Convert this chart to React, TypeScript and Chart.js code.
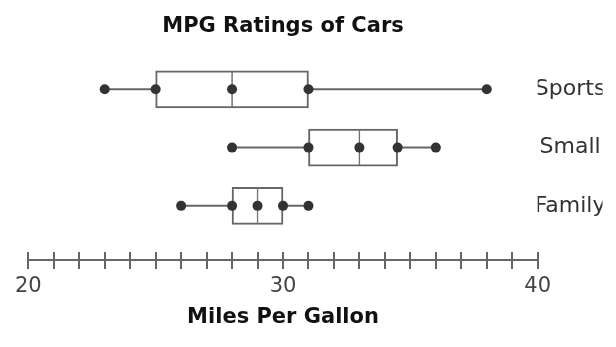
import React, { useEffect, useRef } from "react";
import { Chart, registerables } from "chart.js";

Chart.register(...registerables);

const categories = ["Sports", "Small", "Family"];
const yPositions = [3, 2, 1];
const minVals = [23, 28, 26];
const q1Vals = [25, 31, 28];
const medianVals = [28, 33, 29];
const q3Vals = [31, 34.5, 30];
const maxVals = [38, 36, 31];
const xTickLabels = [20, 30, 40];

const FONT = "'DejaVu Sans', 'Verdana', sans-serif";
const LINE = "#666";
const DOT = "#333";

export default function App() {
  const ref = useRef<HTMLCanvasElement | null>(null);

  useEffect(() => {
    if (!ref.current) return;
    Chart.defaults.font.family = FONT;

    const whiskers = categories.map((c, i) => ({
      type: "scatter" as const,
      label: c + " whisker",
      data: [
        { x: minVals[i], y: yPositions[i] },
        { x: maxVals[i], y: yPositions[i] },
      ],
      showLine: true,
      borderColor: LINE,
      borderWidth: 2,
      pointRadius: 0,
      order: 3,
    }));

    const lowerBox = {
      type: "bar" as const,
      label: "lower box",
      indexAxis: "y" as const,
      data: categories.map((_, i) => ({ x: [q1Vals[i], medianVals[i]], y: yPositions[i] })),
      backgroundColor: "#fff",
      borderColor: LINE,
      borderWidth: { left: 2, right: 1, top: 2, bottom: 2 },
      borderSkipped: false,
      barThickness: 37,
      grouped: false,
      order: 2,
    };
    const upperBox = {
      type: "bar" as const,
      label: "upper box",
      indexAxis: "y" as const,
      data: categories.map((_, i) => ({ x: [medianVals[i], q3Vals[i]], y: yPositions[i] })),
      backgroundColor: "#fff",
      borderColor: LINE,
      borderWidth: { left: 1, right: 2, top: 2, bottom: 2 },
      borderSkipped: false,
      barThickness: 37,
      grouped: false,
      order: 2,
    };

    const points = {
      type: "scatter" as const,
      label: "points",
      data: categories.flatMap((_, i) =>
        [minVals[i], q1Vals[i], medianVals[i], q3Vals[i], maxVals[i]].map((v) => ({ x: v, y: yPositions[i] }))
      ),
      pointRadius: 5,
      pointBackgroundColor: DOT,
      pointBorderWidth: 0,
      order: 1,
    };

    const chart = new Chart(ref.current, {
      type: "scatter",
      data: { datasets: [...whiskers, lowerBox, upperBox, points] as any },
      options: {
        animation: false,
        responsive: false,
        layout: { padding: { left: 28.3, right: 13.5, top: 0, bottom: 0 } },
        plugins: {
          legend: { display: false },
          tooltip: { enabled: false },
          title: {
            display: true,
            text: "MPG Ratings of Cars",
            fullSize: false,
            color: "#111",
            font: { family: FONT, size: 21, weight: "bold" },
            padding: { top: 14, bottom: 21 },
          },
        },
        scales: {
          x: {
            type: "linear",
            position: "bottom",
            weight: 1,
            min: 20,
            max: 40,
            border: { display: true, color: LINE, width: 2 },
            grid: { drawOnChartArea: false, drawTicks: true, tickLength: 9, color: LINE, lineWidth: 2 },
            ticks: {
              stepSize: 1,
              autoSkip: false,
              maxRotation: 0,
              padding: 5,
              color: "#444",
              font: { family: FONT, size: 21 },
              callback: (v: any) => (xTickLabels.includes(Number(v)) ? String(v) : ""),
            },
            title: {
              display: true,
              text: "Miles Per Gallon",
              color: "#111",
              font: { family: FONT, size: 21, weight: "bold" },
              padding: { top: 1, bottom: 16.5 },
            },
          },
          x2: {
            type: "linear",
            position: "bottom",
            weight: -1,
            min: 20,
            max: 40,
            border: { display: false },
            grid: { drawOnChartArea: false, drawTicks: true, tickLength: 8.5, color: LINE, lineWidth: 2 },
            ticks: { display: false, stepSize: 1, autoSkip: false },
          },
          y: {
            type: "linear",
            position: "right",
            offset: false,
            min: 0.215,
            max: 3.5,
            border: { display: false },
            grid: { display: false, drawTicks: false, offset: false },
            afterBuildTicks: (scale: any) => {
              scale.ticks = yPositions.map((v) => ({ value: v }));
            },
            ticks: {
              padding: -3,
              crossAlign: "center",
              color: "#333",
              font: { family: FONT, size: 22 },
              callback: (v: any) => {
                const idx = yPositions.indexOf(Number(v));
                return idx >= 0 ? categories[idx] : "";
              },
            },
          },
        },
      } as any,
    });
    return () => chart.destroy();
  }, []);

  return (
    <div style={{ position: "absolute", left: 0, top: 0, width: 616, height: 347, background: "#fff" }}>
      <canvas ref={ref} width={616} height={347} style={{ display: "block" }} />
    </div>
  );
}
